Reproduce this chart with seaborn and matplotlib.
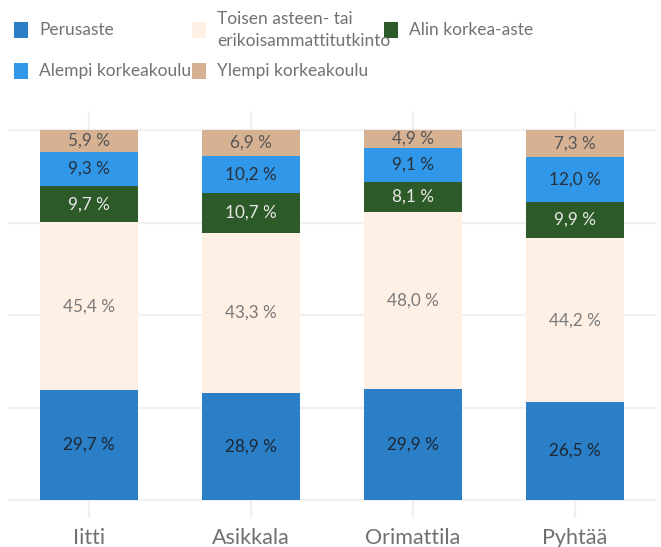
import numpy as np
import pandas as pd
import matplotlib
matplotlib.use("Agg")
import matplotlib.pyplot as plt
from matplotlib.patches import Rectangle
import seaborn as sns

sns.set_theme(style="white")
plt.rcParams['font.family'] = ['Lato', 'DejaVu Sans']

# aineisto
kunnat = ["Iitti", "Asikkala", "Orimattila", "Pyhtää"]
perusaste = [29.7, 28.9, 29.9, 26.5]
toinen_aste = [45.4, 43.3, 48.0, 44.2]
alin_korkea = [9.7, 10.7, 8.1, 9.9]
alempi_korkea = [9.3, 10.2, 9.1, 12.0]
ylempi_korkea = [5.9, 6.9, 4.9, 7.3]

sarjat = ["Perusaste", "Toisen asteen- tai\nerikoisammattitutkinto", "Alin korkea-aste",
          "Alempi korkeakoulu", "Ylempi korkeakoulu"]
arvot = [perusaste, toinen_aste, alin_korkea, alempi_korkea, ylempi_korkea]
varit = ["#2a7fc6", "#fff0e6", "#2c5a28", "#3197e8", "#d6b293"]
tekstivarit = ["#1e2733", "#7a7a7a", "#e8e8e8", "#28313d", "#555555"]

df = pd.DataFrame(np.array(arvot).T, index=kunnat, columns=sarjat)
kertyma = df.cumsum(axis=1)

W, H = 661, 547
fig = plt.figure(figsize=(W / 100, H / 100), dpi=100)
ax = fig.add_axes([8 / W, 1 - 518 / H, 648 / W, (518 - 111) / H])

# pinotut palkit: piirretään kertymät suurimmasta pienimpään
for j in range(len(sarjat) - 1, -1, -1):
    sns.barplot(x=kunnat, y=kertyma.iloc[:, j].values, color=varit[j], width=0.6,
                saturation=1, linewidth=0, ax=ax, zorder=2)

# arvot palkkien sisään
for j, nimi in enumerate(sarjat):
    alku = kertyma.iloc[:, j] - df.iloc[:, j]
    for i, k in enumerate(kunnat):
        v = df.iloc[i, j]
        ax.text(i, alku.iloc[i] + v / 2, f"{v:.1f} %".replace(".", ","),
                ha="center", va="center", fontsize=12.3, color=tekstivarit[j], zorder=3)

ax.set_ylim(-4.86, 105.14)
ax.set_xlim(-0.5, 3.5)
ax.set_yticks([0, 25, 50, 75, 100])
ax.set_yticklabels([])
ax.grid(True, color="#f0f0f0", linewidth=1.6)
ax.set_axisbelow(True)
for s in ax.spines.values():
    s.set_visible(False)
ax.tick_params(axis="both", length=0)
ax.tick_params(axis="x", labelsize=15.5, labelcolor="#707070", pad=7)
ax.set_xlabel("")
ax.set_ylabel("")

# selite yläreunaan (monirivinen nimi rivi kerrallaan)
selite = [(0, 14, 30), (1, 192, 30), (2, 384, 30), (3, 14, 71), (4, 192, 71)]
for j, x0, yc in selite:
    fig.add_artist(Rectangle((x0 / W, 1 - (yc + 8) / H), 14 / W, 16 / H,
                             transform=fig.transFigure, color=varit[j], lw=0))
    rivit = sarjat[j].split("\n")
    for r, rivi in enumerate(rivit):
        y = yc + (r - (len(rivit) - 1) / 2) * 21
        fig.text((x0 + 25) / W, 1 - y / H, rivi, ha="left", va="center",
                 fontsize=12.5, color="#727272")

fig.savefig("out.png", dpi=100)
